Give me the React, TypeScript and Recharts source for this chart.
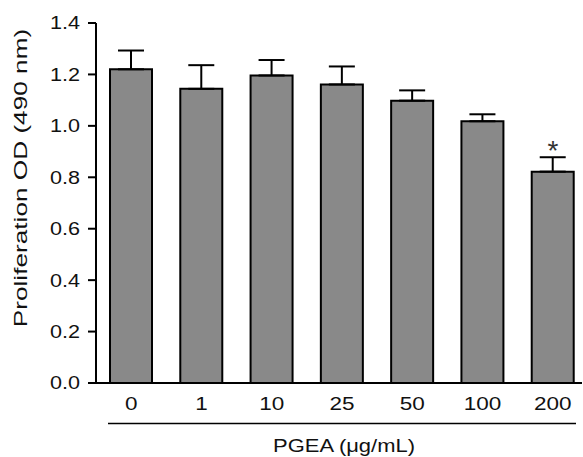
import {
  ComposedChart, Bar, Line, XAxis, YAxis, ErrorBar,
} from 'recharts'

const doses = ['0', '1', '10', '25', '50', '100', '200']
const meanOD = [1.22, 1.144, 1.196, 1.161, 1.098, 1.018, 0.822]
const semOD = [0.073, 0.092, 0.06, 0.07, 0.04, 0.027, 0.056]
const significant = [false, false, false, false, false, false, true]
const yTicks = [0, 0.2, 0.4, 0.6, 0.8, 1.0, 1.2, 1.4]

const data = doses.map((dose, i) => ({
  dose,
  od: meanOD[i],
  err: [0, semOD[i]],
  star: significant[i] ? meanOD[i] + semOD[i] : null,
}))

const FONT = '"Liberation Sans", Arial, Helvetica, sans-serif'
const INK = '#111'

function YTick({ x, y, payload }: any) {
  return (
    <g transform={`translate(${x},${y}) scale(1.2,1)`}>
      <text textAnchor="end" dy="0.355em" fontSize={18} fontFamily={FONT} fill={INK}>
        {Number(payload.value).toFixed(1)}
      </text>
    </g>
  )
}

function XTick({ x, y, payload }: any) {
  return (
    <g transform={`translate(${x},${y}) scale(1.25,1)`}>
      <text textAnchor="middle" dy="0.71em" fontSize={18} fontFamily={FONT} fill={INK}>
        {payload.value}
      </text>
    </g>
  )
}

// underline below the dose labels + axis title
function XTitle({ viewBox }: any) {
  const { x, y, width } = viewBox
  const band = (width + 6) / doses.length
  const x1 = x + 12
  const x2 = x + band * doses.length - 12
  return (
    <g>
      <line x1={x1} x2={x2} y1={y + 40.5} y2={y + 40.5} stroke="#000" strokeWidth={1.5} />
      <g transform={`translate(${(x1 + x2) / 2 + 2},${y + 68.5}) scale(1.22,1)`}>
        <text textAnchor="middle" fontSize={18} fontFamily={FONT} fill={INK}>
          PGEA (μg/mL)
        </text>
      </g>
    </g>
  )
}

function YTitle({ viewBox }: any) {
  const { y } = viewBox
  return (
    <g transform={`translate(27,${y + 155}) rotate(-90) scale(1.38,1)`}>
      <text textAnchor="middle" fontSize={19} fontFamily={FONT} fill={INK}>
        Proliferation OD (490 nm)
      </text>
    </g>
  )
}

function Star(props: any) {
  const { cx, cy, index } = props
  if (cy == null || !significant[index]) return <g key={`s${index}`} />
  return (
    <text key={`s${index}`} x={cx} y={cy + 3} textAnchor="middle" fontSize={28} fontFamily={FONT} fill="#333">
      *
    </text>
  )
}

export default function App() {
  return (
    <div style={{ position: 'absolute', left: 0, top: 0, background: '#fff' }}>
      <ComposedChart width={583} height={457} data={data} margin={{ top: 23, right: 1, bottom: 0, left: 0 }}>
        <XAxis
          dataKey="dose"
          interval={0}
          tick={<XTick />}
          tickLine={false}
          tickSize={0}
          tickMargin={14}
          axisLine={{ stroke: '#000', strokeWidth: 2 }}
          padding={{ left: 0, right: -6 }}
          height={74}
          label={<XTitle />}
        />
        <YAxis
          domain={[0, 1.4]}
          ticks={yTicks}
          interval={0}
          width={96}
          tick={<YTick />}
          tickSize={8}
          tickMargin={8}
          tickLine={{ stroke: '#000', strokeWidth: 2 }}
          axisLine={{ stroke: '#000', strokeWidth: 2 }}
          label={<YTitle />}
        />
        <Bar dataKey="od" fill="#898989" stroke="#000" strokeWidth={2} barSize={42} isAnimationActive={false}>
          <ErrorBar dataKey="err" width={13} stroke="#000" strokeWidth={2} direction="y" isAnimationActive={false} />
        </Bar>
        <Line dataKey="star" stroke="none" dot={Star} activeDot={false} isAnimationActive={false} />
      </ComposedChart>
    </div>
  )
}
